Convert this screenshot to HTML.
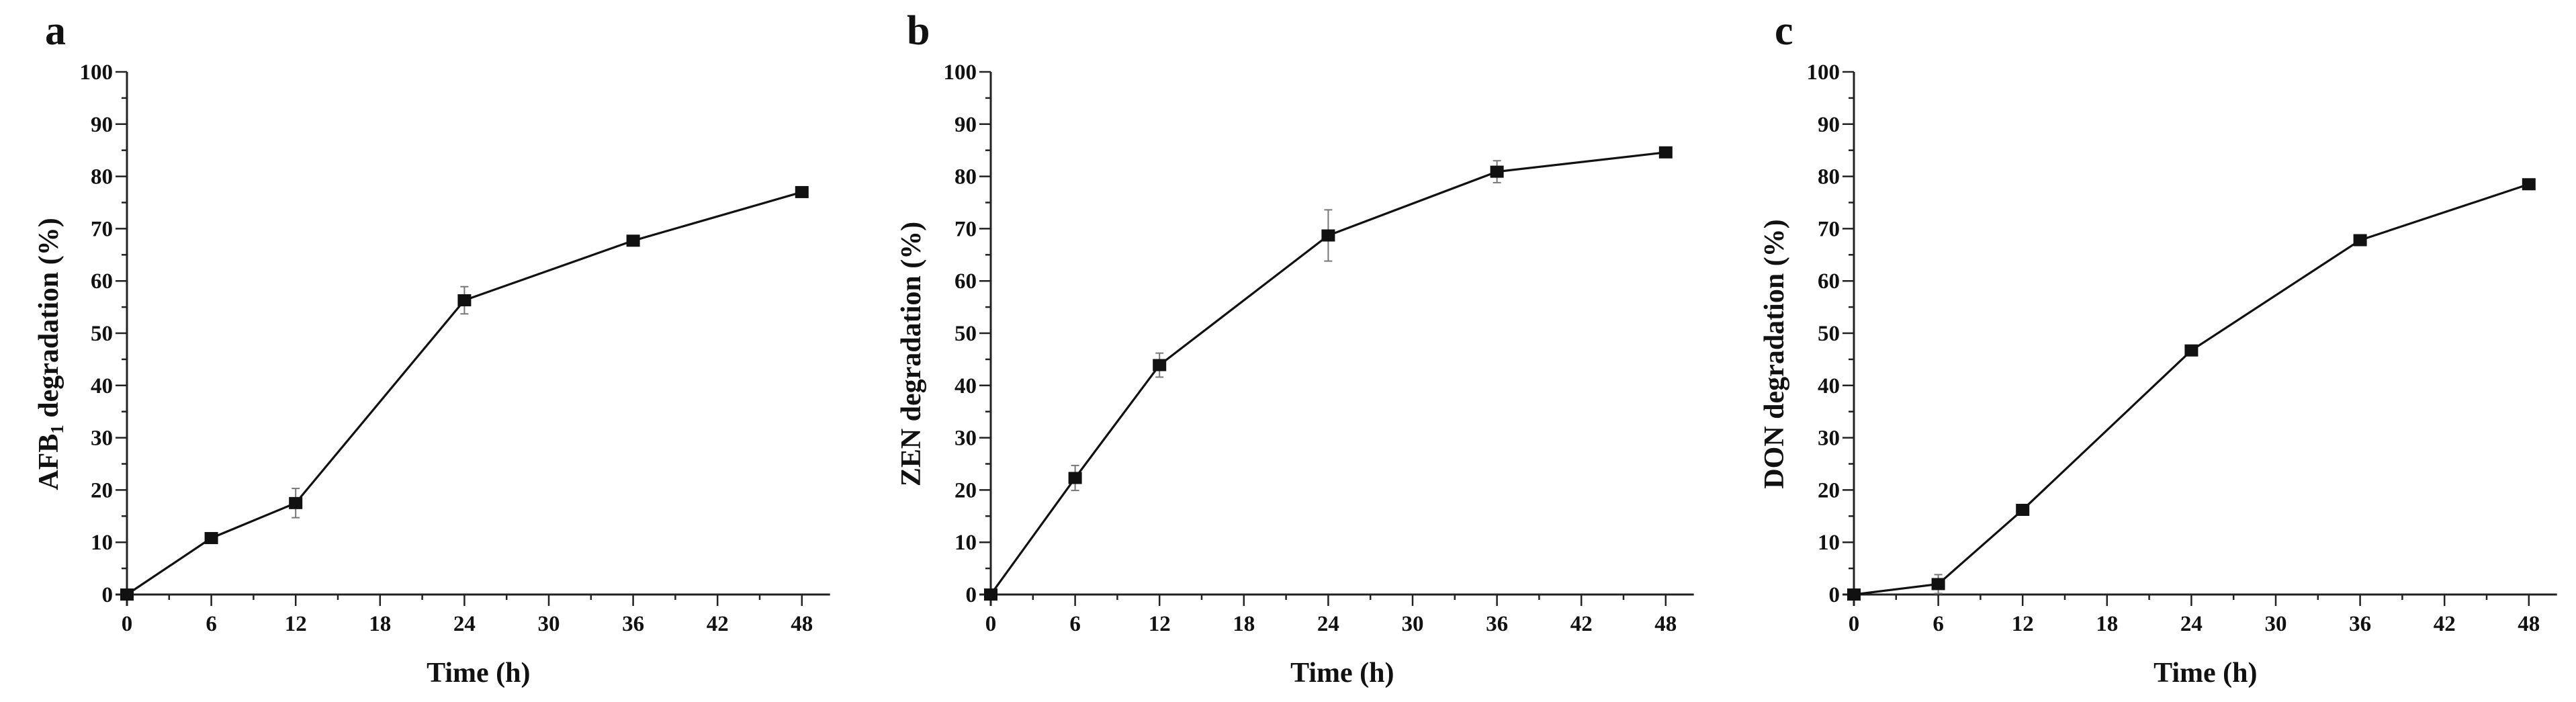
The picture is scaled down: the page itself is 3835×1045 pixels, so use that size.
<!DOCTYPE html>
<html><head><meta charset="utf-8"><style>
html,body{margin:0;padding:0;background:#fff;}
svg{display:block;}
text{font-family:"Liberation Serif",serif;font-weight:bold;fill:#111;}
</style></head><body>
<svg id="fig" width="3835" height="1045" viewBox="0 0 3835 1045"></svg>
<script>
const times = [0, 6, 12, 24, 36, 48];
const afbValues = [0, 10.8, 17.5, 56.3, 67.7, 77.0];
const afbErrors = [0, 0.5, 2.8, 2.6, 0.5, 0.6];
const zenValues = [0, 22.3, 43.9, 68.7, 80.9, 84.6];
const zenErrors = [0, 2.4, 2.3, 4.9, 2.1, 0.8];
const donValues = [0, 2.0, 16.2, 46.7, 67.8, 78.5];
const donErrors = [0, 1.8, 0.5, 0.5, 0.5, 0.5];
const xTickLabels = ["0","6","12","18","24","30","36","42","48"];
const yTickLabels = ["0","10","20","30","40","50","60","70","80","90","100"];

const NS = "http://www.w3.org/2000/svg";
const svg = document.getElementById("fig");
function mk(tag, attrs, parent) {
  const e = document.createElementNS(NS, tag);
  for (const k in attrs) e.setAttribute(k, attrs[k]);
  (parent || svg).appendChild(e);
  return e;
}
const panels = [
  {id:"a", ox:189, letterX:67, titleX:72, title:"AFB", sub:"1", rest:" degradation (%)", vals:afbValues, errs:afbErrors},
  {id:"b", ox:1475, letterX:1350, titleX:1356, title:"ZEN degradation (%)", vals:zenValues, errs:zenErrors},
  {id:"c", ox:2760, letterX:2642, titleX:2641, title:"DON degradation (%)", vals:donValues, errs:donErrors}
];
const y0 = 885, yTop = 107, pxPerHour = 125.6/6;
panels.forEach(p => {
  const g = mk("g", {});
  
  
  const xs = v => p.ox + v * pxPerHour;
  const ys = v => y0 - (v / 100) * (y0 - yTop);
  const letter = mk("text", {x:p.letterX, y:66, "font-size":62}, g);
  letter.textContent = p.id;
  
  
  const yAxis = mk("line", {x1:p.ox, y1:yTop, x2:p.ox, y2:y0+17, stroke:"#222", "stroke-width":3}, g);
  
  
  const xAxis = mk("line", {x1:p.ox-17, y1:y0, x2:xs(50), y2:y0, stroke:"#222", "stroke-width":3}, g);
  
  
  for (let v = 0; v <= 100; v += 5) {
    const major = v % 10 === 0;
    mk("line", {x1:p.ox - (major?17:8), y1:ys(v), x2:p.ox, y2:ys(v), stroke:"#222", "stroke-width":2.5}, g);
  }
  yTickLabels.forEach(l => {
    const t = mk("text", {x:p.ox-21, y:ys(+l)+11, "font-size":33, "text-anchor":"end"}, g);
    t.textContent = l;
    
    
  });
  for (let h = 0; h <= 48; h += 3) {
    const major = h % 6 === 0;
    mk("line", {x1:xs(h), y1:y0, x2:xs(h), y2:y0 + (major?17:8), stroke:"#222", "stroke-width":2.5}, g);
  }
  xTickLabels.forEach(l => {
    const t = mk("text", {x:xs(+l), y:939, "font-size":33, "text-anchor":"middle"}, g);
    t.textContent = l;
    
    
  });
  const xt = mk("text", {x:xs(25), y:1015, "font-size":42, "text-anchor":"middle"}, g);
  xt.textContent = "Time (h)";
  
  
  const cy = 527;
  const yt = mk("text", {x:0, y:0, "font-size":42, "text-anchor":"middle", transform:`translate(${p.titleX+14},${cy}) rotate(-90)`}, g);
  
  
  if (p.sub) {
    const a = mk("tspan", {}, yt); a.textContent = p.title;
    const s = mk("tspan", {"font-size":27, dy:8}, yt); s.textContent = p.sub;
    const r = mk("tspan", {dy:-8}, yt); r.textContent = p.rest;
  } else yt.textContent = p.title;
  const pts = times.map((t,i) => xs(t) + "," + ys(p.vals[i])).join(" ");
  const line = mk("polyline", {points:pts, fill:"none", stroke:"#111", "stroke-width":3.2}, g);
  
  
  times.forEach((t,i) => {
    const x = xs(t), y = ys(p.vals[i]), e = p.errs[i];
    if (e > 0) {
      const eb = mk("path", {d:`M${x},${ys(p.vals[i]+e)}V${ys(p.vals[i]-e)}M${x-6},${ys(p.vals[i]+e)}h12M${x-6},${ys(p.vals[i]-e)}h12`, stroke:"#777", "stroke-width":2, fill:"none"}, g);
      
      
    }
    const m = mk("rect", {x:x-10, y:y-9, width:20, height:18, fill:"#111"}, g);
    
    
  });
});
</script>
</body></html>
